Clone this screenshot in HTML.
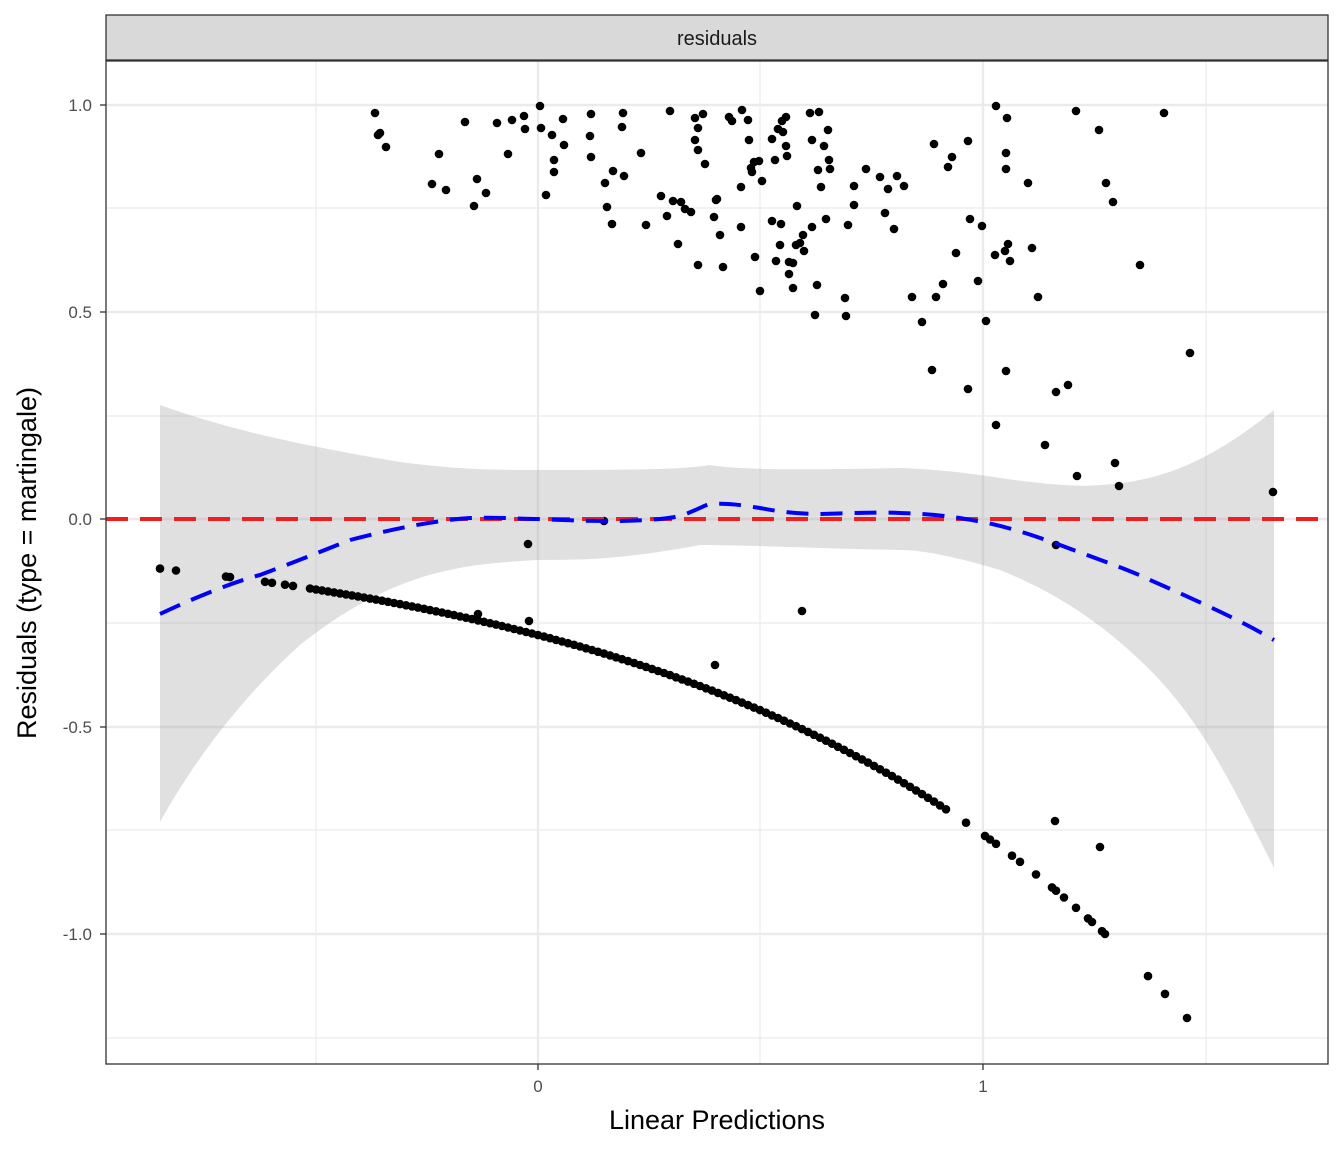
<!DOCTYPE html>
<html><head><meta charset="utf-8"><style>
body{margin:0;background:#fff}
svg{display:block;font-family:"Liberation Sans",sans-serif}
</style></head><body>
<svg id="s" width="1344" height="1152" viewBox="0 0 1344 1152">
<rect x="106" y="61" width="1222" height="1003" fill="#fff"/>
<g stroke="#ebebeb" stroke-width="1.2">
<line x1="106" x2="1328" y1="208" y2="208"/><line x1="106" x2="1328" y1="416" y2="416"/><line x1="106" x2="1328" y1="623" y2="623"/><line x1="106" x2="1328" y1="830" y2="830"/><line x1="106" x2="1328" y1="1038" y2="1038"/>
<line y1="61" y2="1064" x1="316" x2="316"/><line y1="61" y2="1064" x1="760" x2="760"/><line y1="61" y2="1064" x1="1206" x2="1206"/>
</g>
<g stroke="#ebebeb" stroke-width="2.4">
<line x1="106" x2="1328" y1="105" y2="105"/><line x1="106" x2="1328" y1="312" y2="312"/><line x1="106" x2="1328" y1="519" y2="519"/><line x1="106" x2="1328" y1="727" y2="727"/><line x1="106" x2="1328" y1="934" y2="934"/>
<line y1="61" y2="1064" x1="538" x2="538"/><line y1="61" y2="1064" x1="983" x2="983"/>
</g>
<path d="M160,405 C230,430 300,445 400,462 C460,470 500,470 538,470 C620,470 680,470 710,465 C740,470 800,470 900,468 C950,470 980,475 1000,478 C1050,485 1080,487 1100,485 C1150,482 1200,470 1274,410 L1274,868 C1230,780 1200,720 1150,670 C1100,620 1050,590 1000,570 C950,555 920,550 900,550 C800,548 750,545 700,545 C620,560 580,560 538,560 C500,562 470,565 450,570 C400,580 350,605 300,645 C250,690 200,750 160,822 Z" fill="#999" fill-opacity="0.3"/>
<g id="pts" fill="#000"></g>
<line x1="106" x2="1328" y1="519" y2="519" stroke="#f01e1e" stroke-width="4" stroke-dasharray="22,12"/>
<path d="M160,614 C200,595 240,580 260,575 C300,560 330,548 350,540 C400,527 440,520 470,518 C500,517 520,519 538,519 C580,521 600,521 620,521 C660,520 670,518 680,516 C695,511 705,505 710,504 C730,503 740,505 760,508 C780,512 800,514 820,514 C860,513 880,512 900,513 C940,514 960,518 983,522 C1020,530 1040,538 1060,545 C1100,560 1130,570 1150,580 C1200,602 1240,620 1274,640" fill="none" stroke="#0000ff" stroke-width="4" stroke-dasharray="22,12"/>
<rect x="106" y="61" width="1222" height="1003" fill="none" stroke="#333" stroke-width="1.3"/>
<rect x="106" y="15" width="1222" height="45" fill="#d9d9d9" stroke="#333" stroke-width="1.3"/>
<text x="717" y="45" font-size="20" text-anchor="middle" fill="#1a1a1a">residuals</text>
<g font-size="17" fill="#4d4d4d" text-anchor="end">
<text x="92" y="111">1.0</text><text x="92" y="318">0.5</text><text x="92" y="525">0.0</text><text x="92" y="733">-0.5</text><text x="92" y="940">-1.0</text>
</g>
<g stroke="#333" stroke-width="1.3"><line x1="100" x2="106" y1="105" y2="105"/><line x1="100" x2="106" y1="312" y2="312"/><line x1="100" x2="106" y1="519" y2="519"/><line x1="100" x2="106" y1="727" y2="727"/><line x1="100" x2="106" y1="934" y2="934"/>
<line x1="538" x2="538" y1="1064" y2="1070"/><line x1="983" x2="983" y1="1064" y2="1070"/></g>
<g font-size="17" fill="#4d4d4d" text-anchor="middle"><text x="538" y="1092">0</text><text x="983" y="1092">1</text></g>
<text x="717" y="1129" font-size="27" text-anchor="middle" fill="#000">Linear Predictions</text>
<text transform="translate(36,563) rotate(-90)" font-size="27" text-anchor="middle" fill="#000">Residuals (type = martingale)</text>
</svg>
<script>
var g=document.getElementById('pts'),h='';
function c(x,y){h+='<circle cx="'+x.toFixed(1)+'" cy="'+y.toFixed(1)+'" r="4.3"/>';}
var xs=[160,176,226,230,265,272,285,293,966,985,990,996,1012,1020,1036,1052,1056,1064,1076,1088,1092,1102,1105,1148,1165,1187];
for(var x=310;x<=946;x+=6)xs.push(x);
xs.forEach(function(x){var u=(x-538)/445;c(x,519+0.28*Math.exp(u)*414.5);});
var up=[[375,113],[378,135],[380,133],[386,147],[432,184],[446,190],[439,154],[465,122],[477,179],[474,206],[486,193],[497,123],[508,154],[512,120],[524,116],[525,129],[540,106],[541,128],[546,195],[552,135],[554,160],[554,172],[563,119],[564,145],[591,114],[590,136],[591,157],[605,183],[607,207],[612,224],[613,171],[622,127],[623,113],[624,176],[641,153],[646,225],[661,196],[667,216],[670,111],[673,201],[678,244],[681,202],[685,209],[691,212],[695,118],[695,140],[698,150],[698,128],[703,114],[705,164],[698,265],[714,217],[717,199],[716,200],[720,235],[723,267],[729,117],[732,121],[742,110],[741,187],[741,227],[748,120],[751,168],[749,140],[754,162],[752,172],[755,257],[759,161],[762,181],[760,291],[772,139],[772,221],[776,261],[775,160],[778,129],[781,224],[780,245],[782,121],[783,132],[786,117],[786,146],[787,156],[789,262],[789,274],[793,263],[793,288],[796,245],[797,206],[800,243],[803,235],[804,251],[810,113],[812,140],[812,227],[818,170],[819,112],[821,187],[824,146],[826,219],[828,130],[829,160],[830,169],[815,315],[817,285],[845,298],[846,316],[848,225],[854,186],[854,205],[866,169],[880,177],[885,213],[888,189],[894,229],[897,176],[904,186],[912,297],[922,322],[932,370],[934,144],[936,297],[943,284],[948,167],[952,157],[956,253],[968,141],[968,389],[970,219],[978,281],[982,226],[986,321],[996,106],[995,255],[996,425],[1005,251],[1007,118],[1006,153],[1006,169],[1008,244],[1010,261],[1006,371],[1028,183],[1032,248],[1038,297],[1045,445],[1056,392],[1068,385],[1076,111],[1077,476],[1099,130],[1106,183],[1113,202],[1115,463],[1119,486],[1140,265],[1164,113],[1190,353],[1273,492],[528,544],[604,521],[1056,545],[802,611],[715,665],[1055,821],[1100,847],[478,614],[529,621]];
up.forEach(function(p){c(p[0],p[1]);});
g.innerHTML=h;
</script>
</body></html>
